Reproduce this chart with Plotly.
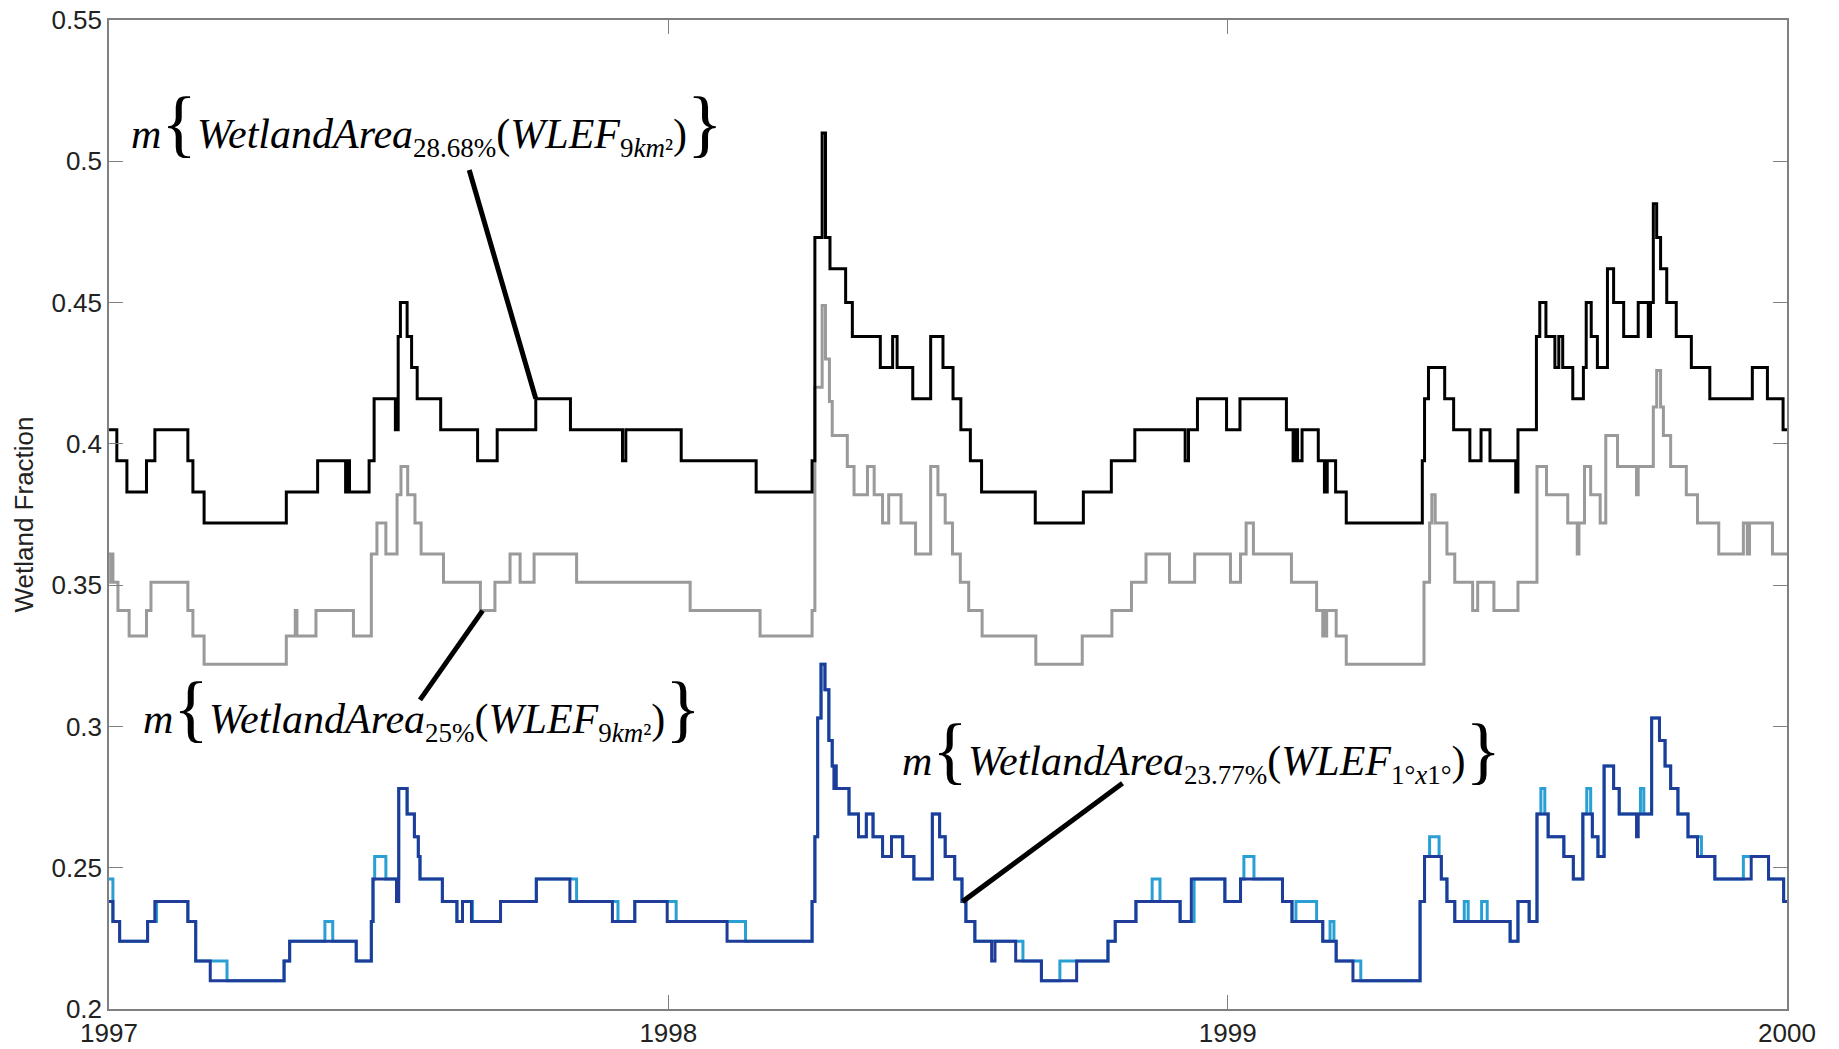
import plotly.graph_objects as go

# ---------------- data (decimal years, wetland fraction) ----------------
black_t = [1997.000, 1997.014, 1997.032, 1997.067, 1997.082, 1997.141, 1997.150, 1997.170, 1997.317, 1997.373,
           1997.423, 1997.427, 1997.430, 1997.465, 1997.474, 1997.512, 1997.517, 1997.521, 1997.533, 1997.541,
           1997.551, 1997.593, 1997.659, 1997.694, 1997.763, 1997.825, 1997.918, 1997.924, 1998.023, 1998.157,
           1998.257, 1998.262, 1998.275, 1998.281, 1998.289, 1998.317, 1998.329, 1998.379, 1998.401, 1998.409,
           1998.437, 1998.469, 1998.491, 1998.509, 1998.523, 1998.540, 1998.560, 1998.656, 1998.742, 1998.792,
           1998.834, 1998.924, 1998.930, 1998.946, 1998.998, 1999.022, 1999.105, 1999.117, 1999.121, 1999.125,
           1999.133, 1999.162, 1999.173, 1999.178, 1999.193, 1999.212, 1999.348, 1999.352, 1999.359, 1999.388,
           1999.404, 1999.433, 1999.453, 1999.469, 1999.515, 1999.519, 1999.552, 1999.558, 1999.569, 1999.585,
           1999.592, 1999.599, 1999.617, 1999.636, 1999.641, 1999.650, 1999.661, 1999.679, 1999.690, 1999.708,
           1999.734, 1999.752, 1999.756, 1999.761, 1999.767, 1999.774, 1999.785, 1999.802, 1999.829, 1999.862,
           1999.938, 1999.965, 1999.993, 2000.000]
black_v = [0.405, 0.394, 0.383, 0.394, 0.405, 0.394, 0.383, 0.372, 0.383, 0.394,
           0.383, 0.394, 0.383, 0.394, 0.416, 0.405, 0.438, 0.450, 0.438, 0.427,
           0.416, 0.405, 0.394, 0.405, 0.416, 0.405, 0.394, 0.405, 0.394, 0.383,
           0.394, 0.473, 0.510, 0.473, 0.462, 0.450, 0.438, 0.427, 0.438, 0.427,
           0.416, 0.438, 0.427, 0.416, 0.405, 0.394, 0.383, 0.372, 0.383, 0.394,
           0.405, 0.394, 0.405, 0.416, 0.405, 0.416, 0.405, 0.394, 0.405, 0.394,
           0.405, 0.394, 0.383, 0.394, 0.383, 0.372, 0.394, 0.416, 0.427, 0.416,
           0.405, 0.394, 0.405, 0.394, 0.383, 0.405, 0.438, 0.450, 0.438, 0.427,
           0.438, 0.427, 0.416, 0.427, 0.450, 0.438, 0.427, 0.462, 0.450, 0.438,
           0.450, 0.438, 0.450, 0.485, 0.473, 0.462, 0.450, 0.438, 0.427, 0.416,
           0.427, 0.416, 0.405, 0.405]

gray_t = [1997.000, 1997.003, 1997.005, 1997.007, 1997.016, 1997.036, 1997.067, 1997.075, 1997.141, 1997.150,
          1997.170, 1997.317, 1997.333, 1997.336, 1997.370, 1997.437, 1997.469, 1997.479, 1997.495, 1997.515,
          1997.522, 1997.534, 1997.547, 1997.558, 1997.598, 1997.664, 1997.690, 1997.717, 1997.735, 1997.760,
          1997.836, 1998.039, 1998.164, 1998.257, 1998.262, 1998.275, 1998.281, 1998.288, 1998.293, 1998.320,
          1998.332, 1998.356, 1998.368, 1998.383, 1998.394, 1998.416, 1998.442, 1998.469, 1998.482, 1998.495,
          1998.508, 1998.522, 1998.537, 1998.561, 1998.657, 1998.740, 1998.793, 1998.828, 1998.854, 1998.896,
          1998.941, 1999.005, 1999.023, 1999.033, 1999.046, 1999.114, 1999.159, 1999.170, 1999.172, 1999.174,
          1999.177, 1999.194, 1999.212, 1999.351, 1999.361, 1999.365, 1999.371, 1999.392, 1999.406, 1999.438,
          1999.447, 1999.476, 1999.519, 1999.553, 1999.570, 1999.608, 1999.625, 1999.628, 1999.638, 1999.649,
          1999.666, 1999.676, 1999.697, 1999.731, 1999.734, 1999.761, 1999.767, 1999.774, 1999.779, 1999.792,
          1999.820, 1999.840, 1999.878, 1999.922, 1999.929, 1999.933, 1999.974, 2000.000]
gray_v = [0.361, 0.351, 0.361, 0.351, 0.341, 0.332, 0.341, 0.351, 0.341, 0.332,
          0.322, 0.332, 0.341, 0.332, 0.341, 0.332, 0.361, 0.372, 0.361, 0.382,
          0.392, 0.382, 0.372, 0.361, 0.351, 0.341, 0.351, 0.361, 0.351, 0.361,
          0.351, 0.341, 0.332, 0.341, 0.420, 0.449, 0.430, 0.415, 0.403, 0.392,
          0.382, 0.392, 0.382, 0.372, 0.382, 0.372, 0.361, 0.392, 0.382, 0.372,
          0.361, 0.351, 0.341, 0.332, 0.322, 0.332, 0.341, 0.351, 0.361, 0.351,
          0.361, 0.351, 0.361, 0.372, 0.361, 0.351, 0.341, 0.332, 0.341, 0.332,
          0.341, 0.332, 0.322, 0.351, 0.372, 0.382, 0.372, 0.361, 0.351, 0.341,
          0.351, 0.341, 0.351, 0.392, 0.382, 0.372, 0.361, 0.372, 0.392, 0.382,
          0.372, 0.403, 0.392, 0.382, 0.392, 0.413, 0.426, 0.413, 0.403, 0.392,
          0.382, 0.372, 0.361, 0.372, 0.361, 0.372, 0.361, 0.361]

blue_dark_t = [1997.000, 1997.007, 1997.019, 1997.069, 1997.082, 1997.141, 1997.155, 1997.181, 1997.313, 1997.323,
               1997.442, 1997.469, 1997.472, 1997.514, 1997.518, 1997.533, 1997.546, 1997.553, 1997.556, 1997.596,
               1997.622, 1997.632, 1997.648, 1997.700, 1997.764, 1997.824, 1997.900, 1997.940, 1997.998, 1998.105,
               1998.257, 1998.262, 1998.267, 1998.273, 1998.280, 1998.287, 1998.293, 1998.296, 1998.298, 1998.300,
               1998.323, 1998.340, 1998.354, 1998.366, 1998.383, 1998.399, 1998.419, 1998.439, 1998.472, 1998.485,
               1998.495, 1998.512, 1998.525, 1998.532, 1998.548, 1998.578, 1998.584, 1998.621, 1998.667, 1998.730,
               1998.786, 1998.799, 1998.836, 1998.915, 1998.935, 1998.995, 1999.023, 1999.098, 1999.115, 1999.170,
               1999.194, 1999.224, 1999.344, 1999.352, 1999.382, 1999.392, 1999.406, 1999.505, 1999.519, 1999.539,
               1999.553, 1999.573, 1999.601, 1999.618, 1999.635, 1999.652, 1999.662, 1999.673, 1999.690, 1999.700,
               1999.731, 1999.734, 1999.758, 1999.772, 1999.782, 1999.792, 1999.805, 1999.823, 1999.840, 1999.871,
               1999.936, 1999.967, 1999.994, 2000.000]
blue_dark_v = [0.238, 0.231, 0.224, 0.231, 0.238, 0.231, 0.217, 0.210, 0.217, 0.224,
               0.217, 0.231, 0.246, 0.238, 0.278, 0.269, 0.261, 0.254, 0.246, 0.238,
               0.231, 0.238, 0.231, 0.238, 0.246, 0.238, 0.231, 0.238, 0.231, 0.224,
               0.238, 0.261, 0.303, 0.322, 0.313, 0.295, 0.286, 0.278, 0.286, 0.278,
               0.269, 0.261, 0.269, 0.261, 0.254, 0.261, 0.254, 0.246, 0.269, 0.261,
               0.254, 0.246, 0.238, 0.231, 0.224, 0.217, 0.224, 0.217, 0.210, 0.217,
               0.224, 0.231, 0.238, 0.231, 0.246, 0.238, 0.246, 0.238, 0.231, 0.224,
               0.217, 0.210, 0.238, 0.254, 0.246, 0.238, 0.231, 0.224, 0.238, 0.231,
               0.269, 0.261, 0.254, 0.246, 0.269, 0.261, 0.254, 0.286, 0.278, 0.269,
               0.261, 0.269, 0.303, 0.295, 0.286, 0.278, 0.269, 0.261, 0.254, 0.246,
               0.254, 0.246, 0.238, 0.238]

blue_light_t = [1997.000, 1997.007, 1997.019, 1997.069, 1997.085, 1997.141, 1997.155, 1997.211, 1997.313, 1997.323,
                1997.386, 1997.400, 1997.442, 1997.469, 1997.472, 1997.475, 1997.495, 1997.518, 1997.533, 1997.546,
                1997.553, 1997.556, 1997.596, 1997.622, 1997.632, 1997.650, 1997.700, 1997.764, 1997.836, 1997.910,
                1997.940, 1998.014, 1998.138, 1998.257, 1998.262, 1998.267, 1998.273, 1998.280, 1998.287, 1998.293,
                1998.300, 1998.323, 1998.340, 1998.354, 1998.366, 1998.383, 1998.399, 1998.419, 1998.439, 1998.472,
                1998.485, 1998.495, 1998.512, 1998.525, 1998.532, 1998.548, 1998.634, 1998.667, 1998.700, 1998.786,
                1998.799, 1998.836, 1998.865, 1998.879, 1998.915, 1998.940, 1998.995, 1999.023, 1999.029, 1999.047,
                1999.098, 1999.115, 1999.122, 1999.159, 1999.170, 1999.183, 1999.190, 1999.194, 1999.238, 1999.344,
                1999.352, 1999.361, 1999.378, 1999.382, 1999.392, 1999.406, 1999.423, 1999.430, 1999.454, 1999.464,
                1999.505, 1999.519, 1999.539, 1999.553, 1999.560, 1999.567, 1999.573, 1999.601, 1999.618, 1999.635,
                1999.642, 1999.649, 1999.652, 1999.662, 1999.673, 1999.690, 1999.700, 1999.738, 1999.744, 1999.758,
                1999.772, 1999.782, 1999.792, 1999.805, 1999.823, 1999.847, 1999.871, 1999.922, 1999.967, 1999.994,
                2000.000]
blue_light_v = [0.246, 0.231, 0.224, 0.231, 0.238, 0.231, 0.217, 0.210, 0.217, 0.224,
                0.231, 0.224, 0.217, 0.231, 0.246, 0.254, 0.246, 0.278, 0.269, 0.261,
                0.254, 0.246, 0.238, 0.231, 0.238, 0.231, 0.238, 0.246, 0.238, 0.231,
                0.238, 0.231, 0.224, 0.238, 0.261, 0.303, 0.322, 0.313, 0.295, 0.286,
                0.278, 0.269, 0.261, 0.269, 0.261, 0.254, 0.261, 0.254, 0.246, 0.269,
                0.261, 0.254, 0.246, 0.238, 0.231, 0.224, 0.217, 0.210, 0.217, 0.224,
                0.231, 0.238, 0.246, 0.238, 0.231, 0.246, 0.238, 0.246, 0.254, 0.246,
                0.238, 0.231, 0.238, 0.231, 0.224, 0.231, 0.224, 0.217, 0.210, 0.238,
                0.254, 0.261, 0.254, 0.246, 0.238, 0.231, 0.238, 0.231, 0.238, 0.231,
                0.224, 0.238, 0.231, 0.269, 0.278, 0.269, 0.261, 0.254, 0.246, 0.269,
                0.278, 0.269, 0.261, 0.254, 0.286, 0.278, 0.269, 0.278, 0.269, 0.303,
                0.295, 0.286, 0.278, 0.269, 0.261, 0.254, 0.246, 0.254, 0.246, 0.238,
                0.238]

for a, b in [(black_t, black_v), (gray_t, gray_v), (blue_dark_t, blue_dark_v), (blue_light_t, blue_light_v)]:
    assert len(a) == len(b), (len(a), len(b))

year_ticks = [1997, 1998, 1999, 2000]
year_labels = ["1997", "1998", "1999", "2000"]
frac_ticks = [0.2, 0.25, 0.3, 0.35, 0.4, 0.45, 0.5, 0.55]
frac_labels = ["0.2", "0.25", "0.3", "0.35", "0.4", "0.45", "0.5", "0.55"]

# ---------------- figure ----------------
fig = go.Figure()
fig.add_trace(go.Scatter(x=gray_t, y=gray_v, mode="lines",
                         line=dict(color="#9a9a9a", width=3, shape="hv"), showlegend=False))
fig.add_trace(go.Scatter(x=black_t, y=black_v, mode="lines",
                         line=dict(color="#000000", width=3, shape="hv"), showlegend=False))
fig.add_trace(go.Scatter(x=blue_light_t, y=blue_light_v, mode="lines",
                         line=dict(color="#2a9fd4", width=3, shape="hv"), showlegend=False))
fig.add_trace(go.Scatter(x=blue_dark_t, y=blue_dark_v, mode="lines",
                         line=dict(color="#1f3c98", width=3, shape="hv"), showlegend=False))

SERIF = "Liberation Serif, Times New Roman, Times, serif"
SPAN_BIG = "<span style='font-family:Liberation Serif;font-size:74px'>"
SPAN_SUB = "<span style='font-family:Liberation Serif;font-size:27px'>"
BR = SPAN_BIG + "{</span>"
BL = SPAN_BIG + "}</span>"


def sub(s):
    return "<sub>" + SPAN_SUB + s + "</span></sub>"


label_black = "<i>m</i>" + BR + "<i>WetlandArea</i>" + sub("28.68%") + "(<i>WLEF</i>" + sub("9<i>km</i>²") + ")" + BL
label_gray = "<i>m</i>" + BR + "<i>WetlandArea</i>" + sub("25%") + "(<i>WLEF</i>" + sub("9<i>km</i>²") + ")" + BL
label_blue = "<i>m</i>" + BR + "<i>WetlandArea</i>" + sub("23.77%") + "(<i>WLEF</i>" + sub("1°<i>x</i>1°") + ")" + BL

ann_font = dict(family=SERIF, size=42, color="black")
annotations = [
    dict(x=1997.035, y=0.5135, xref="x", yref="y", text=label_black, showarrow=False,
         xanchor="left", yanchor="middle", font=ann_font),
    dict(x=1997.058, y=0.3065, xref="x", yref="y", text=label_gray, showarrow=False,
         xanchor="left", yanchor="middle", font=ann_font),
    dict(x=1998.414, y=0.2915, xref="x", yref="y", text=label_blue, showarrow=False,
         xanchor="left", yanchor="middle", font=ann_font),
]

ib = black_t.index(1997.763)
ig = gray_t.index(1997.664)
iu = blue_dark_t.index(1998.525)
shapes = [
    dict(type="line", xref="x", yref="y", x0=1997.644, y0=0.4969, x1=black_t[ib], y1=black_v[ib],
         line=dict(color="black", width=5)),
    dict(type="line", xref="x", yref="y", x0=1997.556, y0=0.3094, x1=gray_t[ig] + 0.004, y1=gray_v[ig],
         line=dict(color="black", width=5)),
    dict(type="line", xref="x", yref="y", x0=1998.812, y0=0.2799, x1=blue_dark_t[iu] + 0.001, y1=blue_dark_v[iu],
         line=dict(color="black", width=5)),
]

axis_common = dict(showgrid=False, zeroline=False, showline=True, linecolor="#808080", linewidth=1.5,
                   mirror="ticks", ticks="inside", ticklen=14, tickcolor="#808080", tickwidth=1.2,
                   tickfont=dict(family="Liberation Sans", size=26, color="#222222"), automargin=False)

fig.update_layout(
    width=1839, height=1049,
    margin=dict(l=109, r=52, t=20, b=40),
    paper_bgcolor="white", plot_bgcolor="white",
    xaxis=dict(range=[1997, 2000], tickvals=year_ticks, ticktext=year_labels, **axis_common),
    yaxis=dict(range=[0.2, 0.55], tickvals=frac_ticks, ticktext=frac_labels,
               title=dict(text="Wetland Fraction", font=dict(family="Liberation Sans", size=26, color="#222222"),
                          standoff=10),
               **axis_common),
    annotations=annotations,
    shapes=shapes,
    showlegend=False,
)

fig.write_html("out.html")
